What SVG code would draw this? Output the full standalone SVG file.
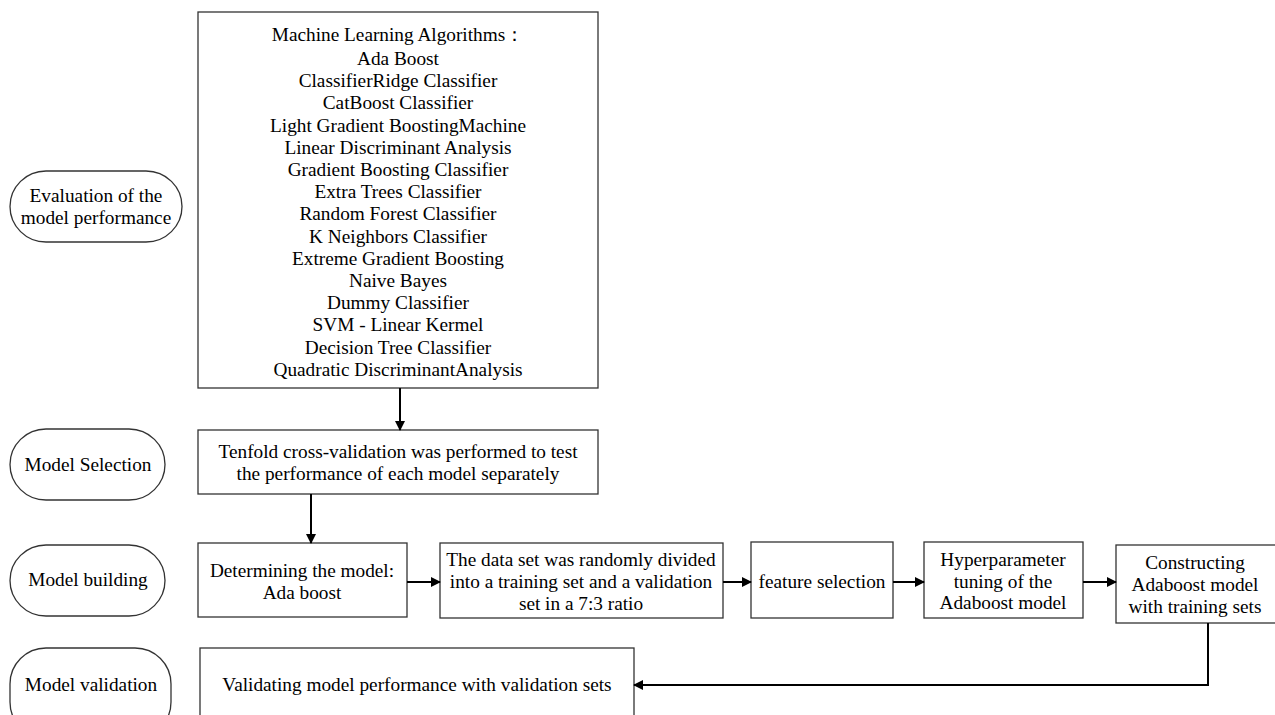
<svg xmlns="http://www.w3.org/2000/svg" width="1275" height="715" viewBox="0 0 1275 715">
<defs>
<style>
text{font-family:"Liberation Serif","Times New Roman",serif;font-size:19.3px;fill:#000;text-anchor:middle}
.box{fill:#fff;stroke:#333;stroke-width:1.3}
.stad{fill:#fff;stroke:#333;stroke-width:1.3}
.conn{fill:none;stroke:#000;stroke-width:2}
</style>
<marker id="arr" markerWidth="10" markerHeight="10" refX="9" refY="5" orient="auto" markerUnits="userSpaceOnUse">
<path d="M0,0 L10,5 L0,10 Z" fill="#000"/>
</marker>
</defs>
<rect width="1275" height="715" fill="#fff"/>

<g id="stage-eval">
<rect class="stad" x="10" y="171" width="172" height="71" rx="36" ry="35.5"/>
<text x="96" y="202">Evaluation of the</text>
<text x="96" y="224">model performance</text>
</g>
<g id="stage-selection">
<rect class="stad" x="10" y="429" width="155" height="71" rx="36" ry="35.5"/>
<text x="88" y="471">Model Selection</text>
</g>
<g id="stage-building">
<rect class="stad" x="10" y="545" width="155" height="71" rx="36" ry="35.5"/>
<text x="88" y="586">Model building</text>
</g>
<g id="stage-validation">
<rect class="stad" x="10" y="648" width="161" height="90" rx="36" ry="36"/>
<text x="91" y="691">Model validation</text>
</g>

<g id="algorithms">
<rect class="box" x="198" y="12" width="400" height="376"/>
<text x="398" y="41">Machine Learning Algorithms：</text>
<text x="398" y="65">Ada Boost</text>
<text x="398" y="87">ClassifierRidge Classifier</text>
<text x="398" y="109">CatBoost Classifier</text>
<text x="398" y="132">Light Gradient BoostingMachine</text>
<text x="398" y="154">Linear Discriminant Analysis</text>
<text x="398" y="176">Gradient Boosting Classifier</text>
<text x="398" y="198">Extra Trees Classifier</text>
<text x="398" y="220">Random Forest Classifier</text>
<text x="398" y="243">K Neighbors Classifier</text>
<text x="398" y="265">Extreme Gradient Boosting</text>
<text x="398" y="287">Naive Bayes</text>
<text x="398" y="309">Dummy Classifier</text>
<text x="398" y="331">SVM - Linear Kermel</text>
<text x="398" y="354">Decision Tree Classifier</text>
<text x="398" y="376">Quadratic DiscriminantAnalysis</text>
</g>

<g id="tenfold">
<rect class="box" x="198" y="430" width="400" height="64"/>
<text x="398" y="458">Tenfold cross-validation was performed to test</text>
<text x="398" y="480">the performance of each model separately</text>
</g>

<g id="determining">
<rect class="box" x="198" y="543" width="209" height="74"/>
<text x="302" y="577">Determining the model:</text>
<text x="302" y="599">Ada boost</text>
</g>

<g id="split">
<rect class="box" x="440" y="543" width="283" height="75"/>
<text x="581" y="566">The data set was randomly divided</text>
<text x="581" y="588">into a training set and a validation</text>
<text x="581" y="610">set in a 7:3 ratio</text>
</g>

<g id="feature">
<rect class="box" x="751" y="542" width="142" height="76"/>
<text x="822" y="588">feature selection</text>
</g>

<g id="hyper">
<rect class="box" x="924" y="542" width="159" height="76"/>
<text x="1003" y="566">Hyperparameter</text>
<text x="1003" y="588">tuning of the</text>
<text x="1003" y="609">Adaboost model</text>
</g>

<g id="construct">
<rect class="box" x="1116" y="545" width="160" height="78"/>
<text x="1195" y="569">Constructing</text>
<text x="1195" y="591">Adaboost model</text>
<text x="1195" y="613">with training sets</text>
</g>

<g id="validate">
<rect class="box" x="200" y="648" width="434" height="90"/>
<text x="417" y="691">Validating model performance with validation sets</text>
</g>

<g id="connectors">
<line class="conn" x1="400" y1="388" x2="400" y2="430" marker-end="url(#arr)"/>
<line class="conn" x1="311" y1="494" x2="311" y2="543" marker-end="url(#arr)"/>
<line class="conn" x1="407" y1="582" x2="440" y2="582" marker-end="url(#arr)"/>
<line class="conn" x1="723" y1="582" x2="751" y2="582" marker-end="url(#arr)"/>
<line class="conn" x1="893" y1="582" x2="924" y2="582" marker-end="url(#arr)"/>
<line class="conn" x1="1083" y1="582" x2="1116" y2="582" marker-end="url(#arr)"/>
<polyline class="conn" points="1208,623 1208,685 634,685" marker-end="url(#arr)"/>
</g>
</svg>
